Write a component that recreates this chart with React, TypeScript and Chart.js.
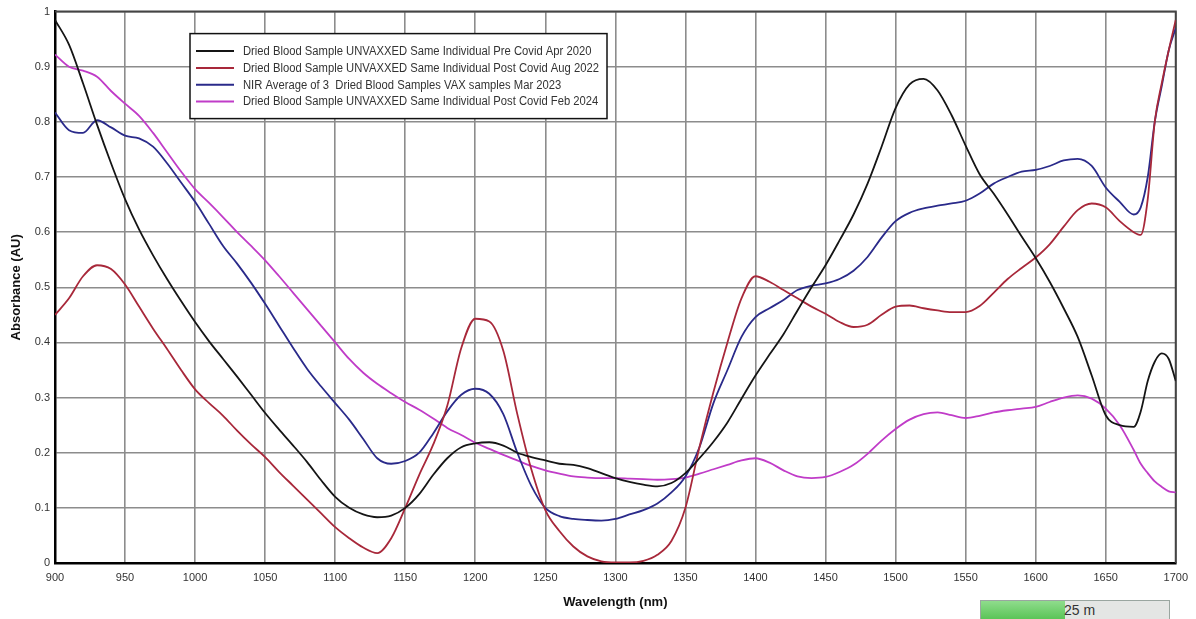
import React, { useEffect, useRef } from 'react';
import { Chart, registerables } from 'chart.js';

Chart.register(...registerables);

const wavelengths = [
  900, 910, 920, 930, 940, 950, 960, 970, 980, 990,
  1000, 1010, 1020, 1030, 1040, 1050, 1060, 1070, 1080, 1090,
  1100, 1110, 1120, 1130, 1140, 1150, 1160, 1170, 1180, 1190,
  1200, 1210, 1220, 1230, 1240, 1250, 1260, 1270, 1280, 1290,
  1300, 1310, 1320, 1330, 1340, 1350, 1360, 1370, 1380, 1390,
  1400, 1410, 1420, 1430, 1440, 1450, 1460, 1470, 1480, 1490,
  1500, 1510, 1520, 1530, 1540, 1550, 1560, 1570, 1580, 1590,
  1600, 1610, 1620, 1630, 1640, 1650, 1660, 1670, 1675, 1680,
  1685, 1690, 1695, 1700,
];

const preCovidApr2020 = [
  0.985, 0.94, 0.87, 0.795, 0.725, 0.66, 0.605, 0.558, 0.515, 0.475,
  0.437, 0.402, 0.37, 0.338, 0.305, 0.272, 0.242, 0.213, 0.183, 0.15,
  0.12, 0.1, 0.088, 0.083, 0.086, 0.1, 0.125, 0.16, 0.19, 0.21,
  0.217, 0.219, 0.213, 0.2, 0.192, 0.186, 0.18, 0.178, 0.172, 0.163,
  0.154, 0.147, 0.142, 0.139, 0.145, 0.163, 0.19, 0.22, 0.255, 0.298,
  0.34, 0.378, 0.415, 0.458, 0.5, 0.54, 0.585, 0.632, 0.688, 0.755,
  0.825, 0.868, 0.878, 0.857, 0.812, 0.757, 0.705, 0.67, 0.632, 0.592,
  0.553, 0.51, 0.462, 0.41, 0.34, 0.268, 0.25, 0.247, 0.275, 0.33,
  0.365, 0.38, 0.37, 0.33,
];

const postCovidAug2022 = [
  0.45, 0.48, 0.52, 0.54, 0.533, 0.505, 0.465, 0.425, 0.388, 0.35,
  0.315, 0.29, 0.267, 0.24, 0.215, 0.192, 0.165, 0.14, 0.115, 0.09,
  0.065, 0.045, 0.028, 0.018, 0.045, 0.1, 0.16, 0.215, 0.285, 0.39,
  0.443, 0.438, 0.385, 0.27, 0.17, 0.096, 0.058, 0.03, 0.012, 0.003,
  0.001, 0.001, 0.004, 0.015, 0.04, 0.1, 0.21, 0.31, 0.4, 0.48,
  0.52, 0.51, 0.495, 0.48, 0.465, 0.452, 0.437, 0.428, 0.432, 0.45,
  0.465, 0.467, 0.462, 0.458, 0.455, 0.455, 0.466, 0.49, 0.515, 0.535,
  0.554, 0.578, 0.61, 0.64, 0.652, 0.645, 0.62, 0.6, 0.595, 0.66,
  0.8, 0.87, 0.93, 0.985,
];

const vaxAverageMar2023 = [
  0.817, 0.785, 0.78, 0.803, 0.79, 0.775, 0.77, 0.755, 0.725, 0.69,
  0.655, 0.615, 0.575, 0.543, 0.508, 0.47, 0.43, 0.39, 0.352, 0.32,
  0.29, 0.26, 0.225, 0.19, 0.18, 0.185, 0.2, 0.235, 0.275, 0.305,
  0.316, 0.307, 0.27, 0.2, 0.14, 0.1, 0.085, 0.08, 0.078, 0.077,
  0.08, 0.088, 0.096, 0.108, 0.128, 0.157, 0.21, 0.29, 0.35, 0.41,
  0.446, 0.462, 0.477, 0.495, 0.503, 0.507, 0.515, 0.53, 0.555, 0.59,
  0.62, 0.635, 0.643, 0.648, 0.652, 0.657, 0.67, 0.688, 0.7, 0.71,
  0.713, 0.72, 0.73, 0.733, 0.72, 0.681, 0.655, 0.632, 0.645, 0.7,
  0.8, 0.865, 0.93, 0.97,
];

const postCovidFeb2024 = [
  0.922, 0.9, 0.893, 0.882, 0.856, 0.833, 0.811, 0.78, 0.745, 0.71,
  0.678, 0.653, 0.627, 0.6, 0.575, 0.549, 0.52, 0.49, 0.46, 0.43,
  0.4, 0.37, 0.345, 0.325, 0.308, 0.292, 0.278, 0.262, 0.245, 0.232,
  0.218, 0.207, 0.196, 0.186, 0.176, 0.168, 0.162, 0.157, 0.155, 0.154,
  0.154, 0.153, 0.152, 0.151, 0.152, 0.155, 0.162, 0.17, 0.178, 0.186,
  0.19, 0.182, 0.168, 0.157, 0.154, 0.156, 0.165, 0.178, 0.198, 0.222,
  0.243, 0.26, 0.27, 0.273, 0.268, 0.263, 0.267, 0.273, 0.277, 0.28,
  0.283, 0.292, 0.3, 0.304, 0.298, 0.28, 0.25, 0.205, 0.18, 0.163,
  0.148, 0.138, 0.13, 0.128,
];

const seriesLabels = [
  'Dried Blood Sample UNVAXXED Same Individual Pre Covid Apr 2020',
  'Dried Blood Sample UNVAXXED Same Individual Post Covid Aug 2022',
  'NIR Average of 3  Dried Blood Samples VAX samples Mar 2023',
  'Dried Blood Sample UNVAXXED Same Individual Post Covid Feb 2024',
];
const seriesColors = ['#151515', '#a8283a', '#2a2a8a', '#c03cc8'];
const seriesValues = [preCovidApr2020, postCovidAug2022, vaxAverageMar2023, postCovidFeb2024];

const xTicks = [900, 950, 1000, 1050, 1100, 1150, 1200, 1250, 1300, 1350, 1400, 1450, 1500, 1550, 1600, 1650, 1700];
const yTicks = [0, 0.1, 0.2, 0.3, 0.4, 0.5, 0.6, 0.7, 0.8, 0.9, 1];

const FONT = '"Liberation Sans", Arial, sans-serif';

const frameAndLegend = {
  id: 'frameAndLegend',
  beforeDatasetsDraw(chart: any) {
    const { ctx, chartArea } = chart;
    ctx.save();
    ctx.strokeStyle = '#444';
    ctx.lineWidth = 2;
    ctx.beginPath();
    ctx.moveTo(chartArea.left, chartArea.top);
    ctx.lineTo(chartArea.right, chartArea.top);
    ctx.lineTo(chartArea.right, chartArea.bottom);
    ctx.stroke();
    ctx.restore();
  },
  afterDraw(chart: any) {
    const { ctx, chartArea } = chart;
    const bx = chartArea.left + 135;
    const by = chartArea.top + 22;
    const bw = 417;
    const bh = 85;
    ctx.save();
    ctx.fillStyle = '#ffffff';
    ctx.fillRect(bx, by, bw, bh);
    ctx.strokeStyle = '#111';
    ctx.lineWidth = 1.5;
    ctx.strokeRect(bx, by, bw, bh);
    ctx.font = `12px ${FONT}`;
    let maxW = 0;
    seriesLabels.forEach((t) => { maxW = Math.max(maxW, ctx.measureText(t).width); });
    const sx = Math.min(1, 356 / maxW);
    chart.data.datasets.forEach((ds: any, i: number) => {
      const cy = by + 17.5 + i * 16.8;
      ctx.strokeStyle = ds.borderColor;
      ctx.lineWidth = 2;
      ctx.beginPath();
      ctx.moveTo(bx + 6, cy);
      ctx.lineTo(bx + 44, cy);
      ctx.stroke();
      ctx.save();
      ctx.translate(bx + 53, cy);
      ctx.scale(sx, 1);
      ctx.fillStyle = '#333';
      ctx.textBaseline = 'middle';
      ctx.textAlign = 'left';
      ctx.fillText(ds.label, 0, 0.5);
      ctx.restore();
    });
    ctx.restore();
  },
};

export default function App() {
  const canvasRef = useRef<HTMLCanvasElement | null>(null);

  useEffect(() => {
    document.body.style.margin = '0';
    const canvas = canvasRef.current;
    if (!canvas) return;
    const datasets = seriesValues.map((vals, i) => ({
      label: seriesLabels[i],
      data: wavelengths.map((w, j) => ({ x: w, y: vals[j] })),
      borderColor: seriesColors[i],
      backgroundColor: seriesColors[i],
      borderWidth: 1.8,
      pointRadius: 0,
      fill: false,
      cubicInterpolationMode: 'monotone' as const,
    }));
    const chart = new Chart(canvas, {
      type: 'line',
      data: { datasets },
      options: {
        responsive: false,
        animation: false,
        events: [],
        layout: { padding: { top: 11, right: 14, left: 0, bottom: 0 } },
        plugins: {
          legend: { display: false },
          tooltip: { enabled: false },
        },
        scales: {
          x: {
            type: 'linear',
            min: 900,
            max: 1700,
            afterBuildTicks: (scale: any) => { scale.ticks = xTicks.map((v) => ({ value: v })); },
            afterFit: (scale: any) => { scale.height = 56; },
            grid: { color: '#8c8c8c', lineWidth: 1.6, drawTicks: false },
            border: { color: '#000', width: 2.5 },
            ticks: {
              color: '#333',
              font: { family: FONT, size: 11 },
              padding: 8,
              maxRotation: 0,
              autoSkip: false,
              callback: (v: any) => String(v),
            },
            title: {
              display: true,
              text: 'Wavelength (nm)',
              color: '#111',
              font: { family: FONT, size: 13, weight: 'bold' },
              padding: { top: 0, bottom: 9 },
            },
          },
          y: {
            type: 'linear',
            min: 0,
            max: 1,
            afterBuildTicks: (scale: any) => { scale.ticks = yTicks.map((v) => ({ value: v })); },
            afterFit: (scale: any) => { scale.width = 55; },
            grid: { color: '#8c8c8c', lineWidth: 1.6, drawTicks: false },
            border: { color: '#000', width: 2.5 },
            ticks: {
              color: '#333',
              font: { family: FONT, size: 11 },
              padding: 5,
              autoSkip: false,
              callback: (v: any) => String(Math.round(Number(v) * 10) / 10),
            },
            title: {
              display: true,
              text: 'Absorbance (AU)',
              color: '#111',
              font: { family: FONT, size: 13, weight: 'bold' },
              padding: { top: 9, bottom: 0 },
            },
          },
        },
      },
      plugins: [frameAndLegend],
    });
    return () => chart.destroy();
  }, []);

  return (
    <div style={{ position: 'relative', width: 1196, height: 619, background: '#fff', overflow: 'hidden' }}>
      <canvas ref={canvasRef} width={1196} height={619} style={{ display: 'block' }} />
      <div
        style={{
          position: 'absolute',
          left: 980,
          top: 600,
          width: 190,
          height: 24,
          border: '1px solid #9aa6a0',
          background: '#e4e6e4',
          boxSizing: 'border-box',
        }}
      >
        <div
          style={{
            position: 'absolute',
            left: 0,
            top: 0,
            width: 84,
            height: '100%',
            background: 'linear-gradient(#8fdc8c, #4fbf4c)',
          }}
        />
        <span
          style={{
            position: 'absolute',
            left: 83,
            top: 1,
            fontFamily: FONT,
            fontSize: 14,
            color: '#333',
          }}
        >
          25 m
        </span>
      </div>
    </div>
  );
}
